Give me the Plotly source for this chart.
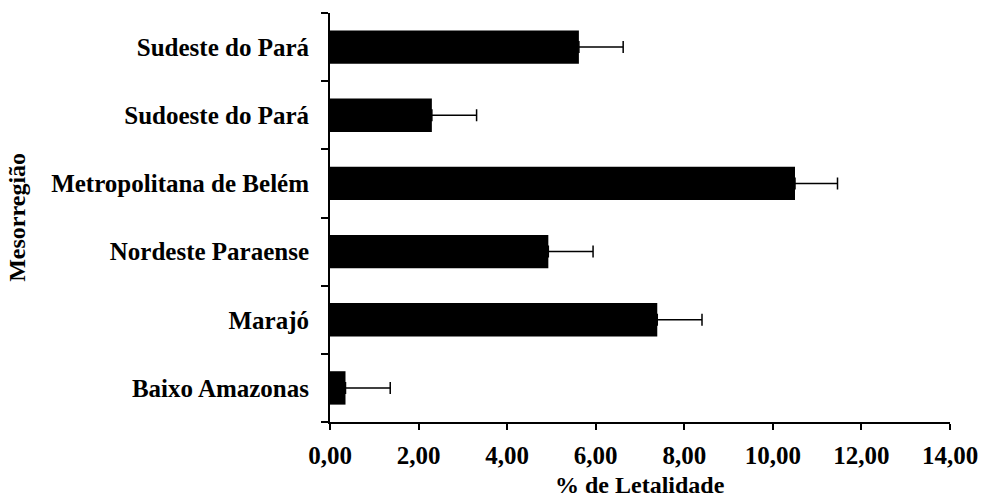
import plotly.graph_objects as go

# Mesorregiões (bottom to top) and lethality (%) with upper error
regions = ["Baixo Amazonas", "Marajó", "Nordeste Paraense",
           "Metropolitana de Belém", "Sudoeste do Pará", "Sudeste do Pará"]
lethality = [0.35, 7.39, 4.93, 10.50, 2.30, 5.62]
error_plus = [1.01, 1.01, 1.01, 0.96, 1.01, 1.00]

x_tickvals = [0, 2, 4, 6, 8, 10, 12, 14]
x_ticktext = ["0,00", "2,00", "4,00", "6,00", "8,00", "10,00", "12,00", "14,00"]

SERIF = "Liberation Serif, Times New Roman, serif"

fig = go.Figure(go.Bar(
    y=regions,
    x=lethality,
    orientation="h",
    width=0.49,
    marker=dict(color="black", line=dict(width=0)),
    error_x=dict(type="data", symmetric=False, array=error_plus,
                 arrayminus=[0] * len(error_plus),
                 color="black", thickness=1.5, width=6),
))

fig.update_layout(
    width=982, height=500,
    margin=dict(l=330, r=32, t=13, b=78, autoexpand=False),
    plot_bgcolor="white", paper_bgcolor="white",
    showlegend=False,
    font=dict(family=SERIF, color="black", weight="bold"),
    xaxis=dict(
        range=[0, 14], tickvals=x_tickvals, ticktext=x_ticktext,
        automargin=False,
        showgrid=False, zeroline=False,
        showline=True, linecolor="black", linewidth=2,
        ticks="outside", ticklen=6, tickwidth=2, tickcolor="black",
        ticklabelstandoff=4,
        tickfont=dict(family=SERIF, size=25, weight="bold"),
    ),
    yaxis=dict(
        type="category", range=[-0.5, 5.5],
        automargin=False,
        showgrid=False, zeroline=False,
        showline=True, linecolor="black", linewidth=2,
        ticks="outside", ticklen=7, tickwidth=2, tickcolor="black",
        tickson="boundaries", ticklabelstandoff=14,
        tickfont=dict(family=SERIF, size=25, weight="bold"),
    ),
    annotations=[
        dict(text="% de Letalidade", xref="paper", yref="paper",
             x=0.5, y=-0.155, xanchor="center", yanchor="middle",
             showarrow=False, font=dict(family=SERIF, size=24, weight="bold")),
        dict(text="Mesorregião", xref="paper", yref="paper",
             x=-0.506, y=0.5, xanchor="center", yanchor="middle", textangle=-90,
             showarrow=False, font=dict(family=SERIF, size=24, weight="bold")),
    ],
)

fig.write_html("out.html")
